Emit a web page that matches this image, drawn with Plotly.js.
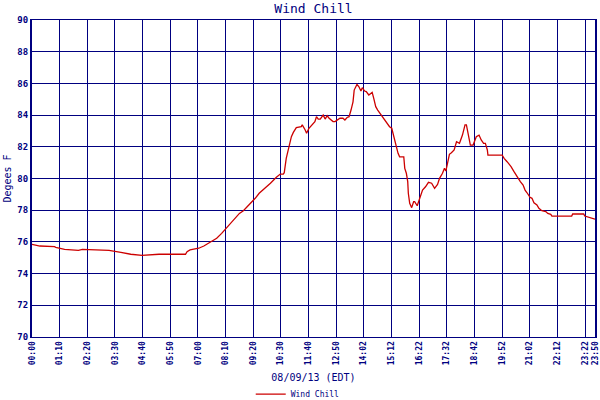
<!DOCTYPE html>
<html>
<head>
<meta charset="utf-8">
<script src="https://cdn.plot.ly/plotly-3.0.1.min.js"></script>
<style>html,body{margin:0;padding:0;background:#fff;}#chart{width:600px;height:400px;}</style>
</head>
<body>
<div id="chart"></div>
<script>
// Sample index along the day (the original axis is spaced by reading count, not by clock time)
const sampleIndex = [0, 4, 11.4, 12, 16.5, 23.5, 25.5, 39, 45, 50, 55.7, 64.3, 77.7, 78.5, 80, 84.4, 87, 90.4, 93.5, 96, 97.5, 99.5, 102.5, 105, 107, 110, 113, 115, 118, 120.7, 123.7, 125.7, 127.2, 127.7, 128.7, 130, 131.3, 132.3, 133.8, 136.3, 136.8, 138.3, 139, 140.2, 141.8, 143.2, 144, 144.9, 145.9, 146.9, 147.4, 148.4, 149.4, 150.4, 152.4, 153.4, 154.4, 155.9, 157.4, 158.4, 159.5, 160.5, 161.5, 162.5, 163.1, 164, 164.5, 165.5, 166.5, 167.2, 168.4, 169.2, 170.5, 171.5, 172.2, 173, 174, 175, 176.5, 178, 179.6, 181, 182.1, 183.1, 184.3, 185.3, 186.1, 188.2, 188.7, 189.5, 190.2, 190.5, 191.2, 192.2, 193.2, 193.7, 195, 195.7, 196.7, 197.7, 199.2, 200.7, 202.3, 203.8, 205.3, 206.3, 207.8, 208.8, 209.5, 210.3, 211.3, 212.3, 213.7, 214.9, 216.4, 217.9, 219.2, 219.9, 221, 221.9, 223.3, 223.9, 224.9, 226.3, 227.4, 228.6, 229.5, 230.5, 230.8, 238, 239, 240.5, 242.5, 244, 245.5, 247.2, 248.6, 249.6, 250.6, 252.1, 253.1, 254.1, 255.6, 256.6, 258.1, 260.1, 261.1, 262.6, 263.2, 273.2, 273.7, 279.3, 279.8, 281.8, 284.3, 285];
const windChill = [75.85, 75.74, 75.7, 75.66, 75.53, 75.47, 75.53, 75.47, 75.34, 75.22, 75.15, 75.22, 75.22, 75.38, 75.49, 75.6, 75.74, 76.01, 76.23, 76.54, 76.75, 77.07, 77.49, 77.8, 77.97, 78.33, 78.75, 79.07, 79.38, 79.7, 80.08, 80.28, 80.28, 80.37, 81.27, 82.0, 82.64, 82.91, 83.21, 83.27, 83.38, 83.06, 82.85, 83.17, 83.38, 83.59, 83.9, 83.75, 83.75, 83.9, 84.0, 83.75, 83.96, 83.8, 83.59, 83.59, 83.69, 83.8, 83.8, 83.69, 83.85, 83.9, 84.32, 84.84, 85.58, 85.79, 85.94, 85.79, 85.52, 85.73, 85.52, 85.48, 85.27, 85.37, 85.44, 85.06, 84.53, 84.32, 84.05, 83.8, 83.48, 83.27, 83.17, 82.64, 82.11, 81.59, 81.37, 81.37, 80.64, 80.33, 79.8, 79.07, 78.43, 78.16, 78.54, 78.54, 78.28, 78.54, 79.0, 79.27, 79.48, 79.76, 79.7, 79.38, 79.63, 80.01, 80.33, 80.64, 80.47, 81.02, 81.53, 81.63, 81.8, 82.32, 82.22, 82.74, 83.38, 83.38, 82.54, 82.11, 82.11, 82.32, 82.64, 82.74, 82.43, 82.22, 82.22, 81.8, 81.48, 81.48, 81.27, 81.06, 80.75, 80.43, 80.12, 79.8, 79.59, 79.27, 79.1, 78.81, 78.75, 78.47, 78.33, 78.12, 77.97, 77.91, 77.8, 77.74, 77.63, 77.63, 77.76, 77.76, 77.63, 77.55, 77.43, 77.43];

const tickPositions = [0, 14, 28, 42, 56, 70, 84, 98, 112, 126, 140, 154, 168, 182, 196, 210, 224, 238, 252, 266, 280, 285];
const tickLabels = ["00:00", "01:10", "02:20", "03:30", "04:40", "05:50", "07:00", "08:10", "09:20", "10:30", "11:40", "12:50", "14:02", "15:12", "16:22", "17:32", "18:42", "19:52", "21:02", "22:12", "23:22", "23:50"];
const yTicks = [70, 72, 74, 76, 78, 80, 82, 84, 86, 88, 90];

const navy = "#000080";
const mono = "DejaVu Sans Mono, monospace";

const trace = {
  x: sampleIndex,
  y: windChill,
  type: "scatter",
  mode: "lines",
  name: "Wind Chill",
  line: {color: "#cc0000", width: 1.3}
};

const layout = {
  width: 600,
  height: 400,
  margin: {l: 32, r: 5, t: 20, b: 63, autoexpand: false},
  paper_bgcolor: "#ffffff",
  plot_bgcolor: "#ffffff",
  title: {text: "Wind Chill", font: {family: mono, size: 13, color: navy}, x: 0.5, xref: "paper", y: 0.978, yanchor: "middle"},
  xaxis: {
    range: [0, 285],
    tickmode: "array",
    tickvals: tickPositions,
    ticktext: tickLabels,
    tickangle: -90,
    tickfont: {family: mono, size: 8, color: navy, weight: "bold"},
    ticks: "",
    showgrid: true,
    gridcolor: navy,
    gridwidth: 1,
    zeroline: false,
    showline: true,
    linecolor: navy,
    linewidth: 1,
    mirror: true,
    automargin: false,
    title: {text: "08/09/13 (EDT)", font: {family: mono, size: 10, color: navy}, standoff: 9}
  },
  yaxis: {
    range: [70, 90],
    tickmode: "array",
    tickvals: yTicks,
    tickfont: {family: mono, size: 9, color: navy, weight: "bold"},
    ticks: "",
    showgrid: true,
    gridcolor: navy,
    gridwidth: 1,
    zeroline: false,
    showline: true,
    linecolor: navy,
    linewidth: 2,
    mirror: true,
    automargin: false,
    title: {text: "Degees F", font: {family: mono, size: 10, color: navy}, standoff: 4}
  },
  showlegend: true,
  legend: {
    orientation: "h",
    x: 0.472,
    xanchor: "center",
    y: -0.18,
    yanchor: "middle",
    font: {family: mono, size: 8, color: navy},
    itemwidth: 30,
    bgcolor: "rgba(0,0,0,0)"
  }
};

Plotly.newPlot("chart", [trace], layout, {displayModeBar: false, staticPlot: true}).then(function () {
  // keep the last tick label (23:50) visible even though it sits next to 23:22
  const labels = document.querySelectorAll(".xtick text");
  labels.forEach(function (t) { t.style.display = ""; t.removeAttribute("display"); });
});
</script>
</body>
</html>
